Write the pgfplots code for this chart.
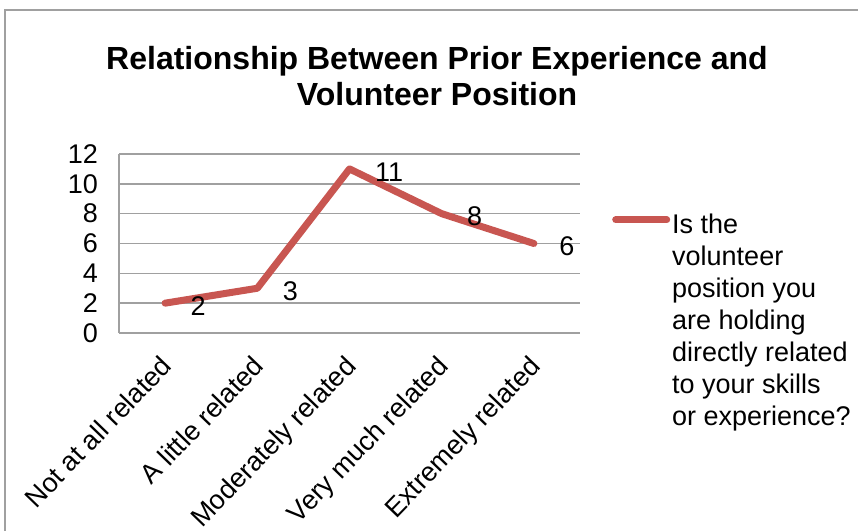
\documentclass[border=0pt]{standalone}
\usepackage{pgfplots}
\pgfplotsset{compat=1.18}
\usepackage{fontspec}
\setmainfont{Liberation Sans}
\definecolor{serred}{RGB}{200,86,81}
\definecolor{gridgray}{RGB}{160,160,160}
\begin{document}
\begin{tikzpicture}[x=1pt,y=1pt]
\useasboundingbox (0,0) rectangle (858,531);
\draw[gridgray, line width=1.5pt] (5,0) -- (5,521) -- (858,521);
\node[font=\bfseries\fontsize{32}{36}\selectfont, anchor=base] at (437,461) {Relationship Between Prior Experience and};
\node[font=\bfseries\fontsize{32}{36}\selectfont, anchor=base] at (437,425) {Volunteer Position};
\begin{axis}[
  at={(119pt,198pt)}, anchor=south west,
  scale only axis, width=461pt, height=179pt,
  xmin=-0.5, xmax=4.5, ymin=0, ymax=12,
  ytick={0,2,...,12},
  xtick={0,1,2,3,4},
  xticklabels={Not at all related, A little related, Moderately related, Very much related, Extremely related},
  /pgf/number format/assume math mode=true,
  every tick label/.append style={font=\fontsize{27}{30}\selectfont},
  yticklabel style={anchor=east, inner sep=0pt, xshift=-21pt},
  xticklabel style={xshift=-6pt, yshift=-21pt, rotate=46, anchor=north east, inner sep=0pt},
  major tick length=0pt,
  ymajorgrids, grid style={gridgray, line width=1.5pt},
  axis x line*=bottom, axis y line*=left,
  axis line style={gridgray, line width=1.5pt, -},
  nodes near coords,
  every node near coord/.append style={anchor=west, inner sep=0pt, xshift=22pt, yshift=-3pt, font=\fontsize{27}{30}\selectfont, text=black},
  legend style={draw=none, fill=none, at={(1,1)}, anchor=north west, xshift=32pt, yshift=-58pt,
    font=\fontsize{27}{32}\selectfont, align=left, inner sep=0pt, cells={anchor=base west}},
  legend image code/.code={\draw[serred, line width=7pt, line cap=round] (3.5pt,206pt) -- (54.5pt,206pt);},
]
\addplot[serred, line width=7pt, line join=round, line cap=round, mark=none] coordinates {(0,2) (1,3) (2,11) (3,8) (4,6)};
\addlegendentry{Is the\\volunteer\\position you\\are holding\\directly related\\to your skills\\or experience?}
\end{axis}
\end{tikzpicture}
\end{document}
